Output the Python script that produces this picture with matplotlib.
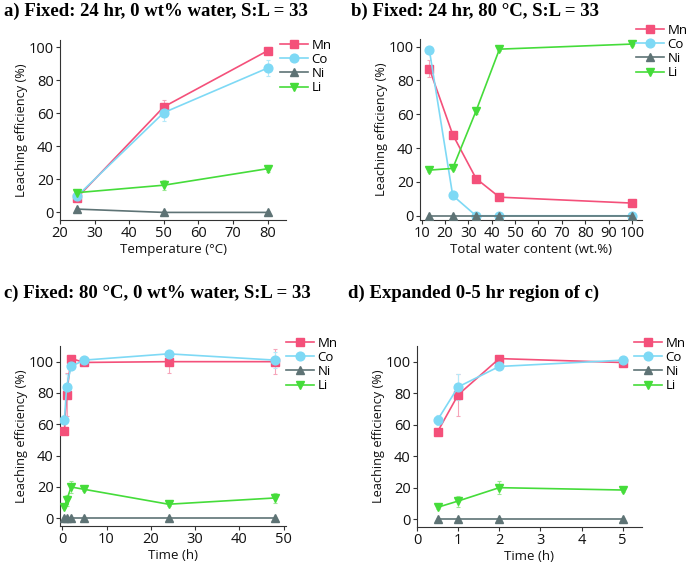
import matplotlib
matplotlib.use("Agg")
import matplotlib.pyplot as plt

# ---------------- data ----------------
series = ["Mn", "Co", "Ni", "Li"]

# a) temperature
temp = [25, 50, 80]
a_mn = [9, 64, 98]
a_co = [10, 60.5, 87.5]
a_ni = [2, 0, 0]
a_li = [12, 16.5, 26.5]
a_mn_err = [1, 4, 2]
a_co_err = [1, 5, 5]
a_ni_err = [0, 0, 0]
a_li_err = [1, 3, 2]

# b) water content
water = [13.3, 23.3, 33.3, 43.3, 100]
b_mn = [87, 48, 22, 11, 7.5]
b_co = [98, 12, 0, 0, 0]
b_ni = [0, 0, 0, 0, 0]
b_li = [27, 28, 62, 98.5, 101.5]
b_mn_err = [5, 1, 1, 1.5, 1]
b_co_err = [1, 1, 0.5, 0.5, 0.5]
b_ni_err = [0, 0, 0, 0, 0]
b_li_err = [1, 1, 2, 1, 1]

# c) time
time_c = [0.5, 1, 2, 5, 24, 48]
c_mn = [55.5, 79, 102, 99.5, 100, 100]
c_co = [63, 84, 97, 101, 105, 101]
c_ni = [0, 0, 0, 0, 0, 0]
c_li = [7.5, 11.5, 20, 18.5, 9, 13]
c_mn_err = [1, 13.5, 1, 1, 7, 8]
c_co_err = [3, 8, 1, 2, 1, 5]
c_ni_err = [0, 0, 0, 0, 0, 0]
c_li_err = [1, 3.5, 4, 1, 1, 3]

# d) first 0-5 h of c
time_d = [0.5, 1, 2, 5]
d_mn = [55.5, 79, 102, 99.5]
d_co = [63, 84, 97, 101]
d_ni = [0, 0, 0, 0]
d_li = [7.5, 11.5, 20, 18.5]
d_mn_err = [1, 13.5, 1, 1]
d_co_err = [3, 8, 1, 2]
d_ni_err = [0, 0, 0, 0]
d_li_err = [1, 3.5, 4, 1]

titles = ["a) Fixed: 24 hr, 0 wt% water, S:L = 33",
          "b) Fixed: 24 hr, 80 \u00b0C, S:L = 33",
          "c) Fixed: 80 \u00b0C, 0 wt% water, S:L = 33",
          "d) Expanded 0-5 hr region of c)"]
xlabels = ["Temperature (\u00b0C)", "Total water content (wt.%)", "Time (h)", "Time (h)"]
ylabel = "Leaching efficiency (%)"

# ---------------- style ----------------
plt.rcParams["font.family"] = ["Open Sans", "DejaVu Sans"]
colors = {"Mn": "#F4507A", "Co": "#7ED9F5", "Ni": "#5E7375", "Li": "#45DC3A"}
ecolors = {"Mn": "#F6A5BA", "Co": "#B5E9F9", "Ni": "#A8B4B5", "Li": "#9BEA93"}
markers = {"Mn": "s", "Co": "o", "Ni": "^", "Li": "v"}

W, H = 688, 567
fig = plt.figure(figsize=(W / 100, H / 100), dpi=100)

def px_axes(l, t, r, b):
    return fig.add_axes([l / W, 1 - b / H, (r - l) / W, (b - t) / H])

panels = [
    dict(box=(60, 40, 286, 220), x=temp, ys=[a_mn, a_co, a_ni, a_li],
         es=[a_mn_err, a_co_err, a_ni_err, a_li_err],
         xlim=(20, 85.3), xticks=[20, 30, 40, 50, 60, 70, 80], ylim=(-4.6, 104.5),
         yticks=[0, 20, 40, 60, 80, 100], leg=(280, 39), title=(4, 11)),
    dict(box=(420, 39, 642, 220), x=water, ys=[b_mn, b_co, b_ni, b_li],
         es=[b_mn_err, b_co_err, b_ni_err, b_li_err],
         xlim=(9.3, 104.3), xticks=[10, 20, 30, 40, 50, 60, 70, 80, 90, 100], ylim=(-2.5, 104.5),
         yticks=[0, 20, 40, 60, 80, 100], leg=(636, 24), title=(351, 11)),
    dict(box=(60, 346, 286, 526), x=time_c, ys=[c_mn, c_co, c_ni, c_li],
         es=[c_mn_err, c_co_err, c_ni_err, c_li_err],
         xlim=(-0.5, 50.5), xticks=[0, 10, 20, 30, 40, 50], ylim=(-4.9, 110),
         yticks=[0, 20, 40, 60, 80, 100], leg=(286, 337), title=(4, 293)),
    dict(box=(417, 346, 642, 527), x=time_d, ys=[d_mn, d_co, d_ni, d_li],
         es=[d_mn_err, d_co_err, d_ni_err, d_li_err],
         xlim=(0, 5.47), xticks=[0, 1, 2, 3, 4, 5], ylim=(-5, 110),
         yticks=[0, 20, 40, 60, 80, 100], leg=(634, 337), title=(348, 293)),
]

spine_col = "#333333"
for i, p in enumerate(panels):
    ax = px_axes(*p["box"])
    handles = []
    for name, y, e in zip(series, p["ys"], p["es"]):
        ax.errorbar(p["x"], y, yerr=e, fmt="none", ecolor=ecolors[name],
                    elinewidth=0.8, capsize=1.5, capthick=0.8, zorder=2)
        h, = ax.plot(p["x"], y, color=colors[name], marker=markers[name],
                     markersize=6.3, linewidth=1.2, zorder=3, label=name)
        handles.append(h)
    ax.set_xlim(*p["xlim"])
    ax.set_ylim(*p["ylim"])
    ax.set_xticks(p["xticks"])
    ax.set_yticks(p["yticks"])
    for s in ["top", "right"]:
        ax.spines[s].set_visible(False)
    for s in ["left", "bottom"]:
        ax.spines[s].set_color(spine_col)
        ax.spines[s].set_linewidth(0.8)
    ax.tick_params(direction="out", length=3, width=0.8, colors=spine_col,
                   labelsize=10.5, labelcolor="#111111", pad=1.5)
    ax.set_xlabel(xlabels[i], fontsize=9.5, color="#111111", labelpad=1.5)
    ax.set_ylabel(ylabel, fontsize=9.2, color="#111111", labelpad=0.5)
    lx, ly = p["leg"]
    fig.legend(handles=handles, loc="upper left",
               bbox_to_anchor=(lx / W, 1 - ly / H), frameon=False,
               fontsize=9.5, handlelength=2.1, handletextpad=0.3,
               labelspacing=0.08, borderaxespad=0, borderpad=0)
    tx, ty = p["title"]
    fig.text(tx / W, 1 - ty / H, titles[i], fontsize=13.5, fontweight="bold",
             family="Liberation Serif", ha="left", va="center")

fig.savefig("out.png", dpi=100)
